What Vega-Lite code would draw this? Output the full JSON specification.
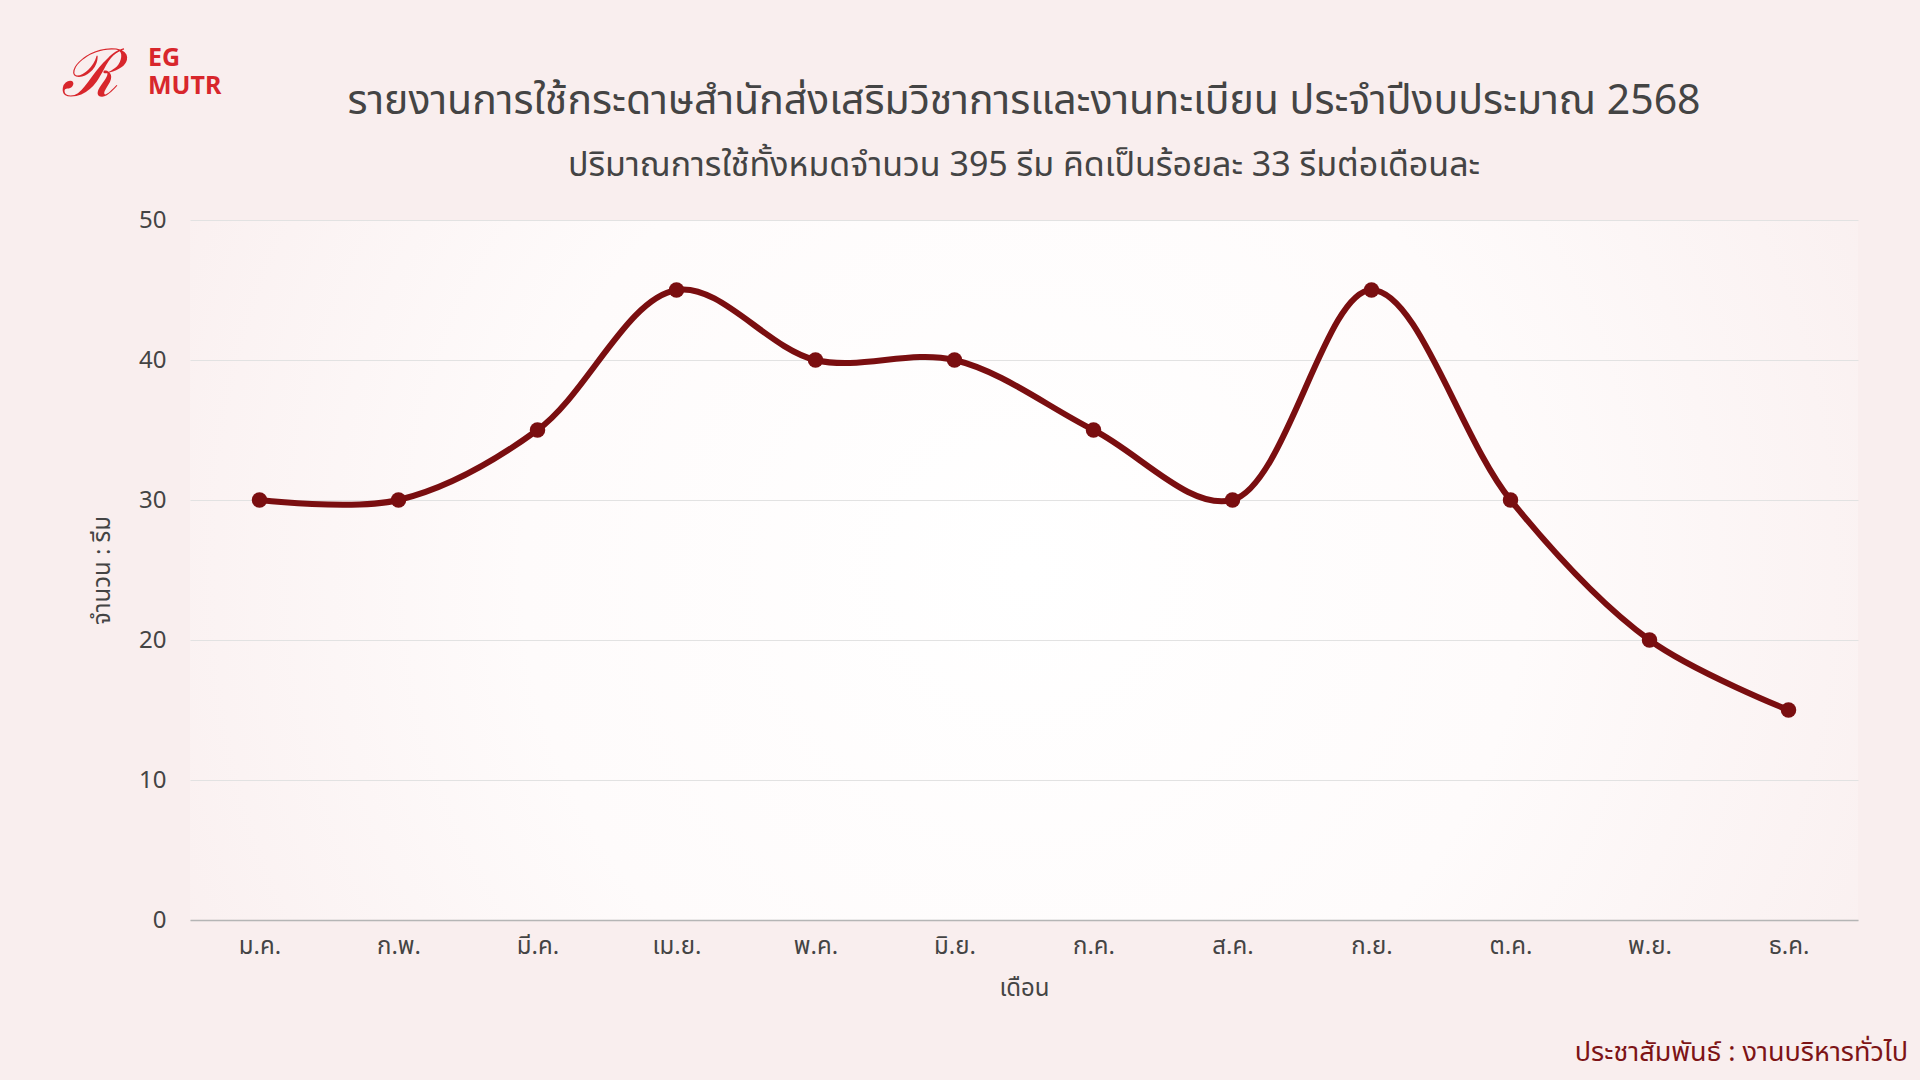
{
  "$schema": "https://vega.github.io/schema/vega-lite/v6.json",
  "width": 1668,
  "height": 700,
  "autosize": {"type": "none"},
  "padding": {"left": 190, "top": 220, "right": 62, "bottom": 160},
  "background": "#f9eeee",
  "title": {
    "text": "รายงานการใช้กระดาษสำนักส่งเสริมวิชาการและงานทะเบียน ประจำปีงบประมาณ 2568",
    "subtitle": "ปริมาณการใช้ทั้งหมดจำนวน 395 รีม คิดเป็นร้อยละ 33 รีมต่อเดือนละ",
    "anchor": "middle",
    "fontSize": 41,
    "fontWeight": "normal",
    "color": "#444444",
    "subtitleFontSize": 34,
    "subtitleColor": "#444444",
    "subtitlePadding": 26,
    "offset": -141,
    "font": "Noto Sans Thai, Noto Sans",
    "subtitleFont": "Noto Sans Thai, Noto Sans"
  },
  "view": {
    "stroke": null,
    "fill": {
      "gradient": "radial",
      "x1": 0.5, "y1": 0.5, "r1": 0,
      "x2": 0.5, "y2": 0.5, "r2": 0.6,
      "stops": [
        {"offset": 0, "color": "#ffffff"},
        {"offset": 0.5, "color": "#fefbfb"},
        {"offset": 1, "color": "#f9eeee"}
      ]
    }
  },
  "datasets": {
    "usage": [
      {"month": "ม.ค.", "reams": 30},
      {"month": "ก.พ.", "reams": 30},
      {"month": "มี.ค.", "reams": 35},
      {"month": "เม.ย.", "reams": 45},
      {"month": "พ.ค.", "reams": 40},
      {"month": "มิ.ย.", "reams": 40},
      {"month": "ก.ค.", "reams": 35},
      {"month": "ส.ค.", "reams": 30},
      {"month": "ก.ย.", "reams": 45},
      {"month": "ต.ค.", "reams": 30},
      {"month": "พ.ย.", "reams": 20},
      {"month": "ธ.ค.", "reams": 15}
    ],
    "notes": [
      {"label": "ประชาสัมพันธ์ : งานบริหารทั่วไป"}
    ],
    "logo": [
      {"mark": "ℛ", "top": "EG", "bottom": "MUTR"}
    ]
  },
  "layer": [
    {
      "data": {"name": "usage"},
      "mark": {
        "type": "line",
        "interpolate": "catmull-rom",
        "color": "#7a0e10",
        "strokeWidth": 6
      },
      "encoding": {
        "x": {
          "field": "month",
          "type": "ordinal",
          "sort": null,
          "title": "เดือน",
          "axis": {
            "labelAngle": 0,
            "labelFontSize": 24,
            "labelColor": "#444444",
            "labelPadding": 14,
            "titleFontSize": 24,
            "titleFontWeight": "normal",
            "titleColor": "#444444",
            "titlePadding": 18,
            "ticks": false,
            "domainColor": "#b5b5b5",
            "domainWidth": 1.5,
            "labelFont": "Noto Sans Thai, Noto Sans",
            "titleFont": "Noto Sans Thai, Noto Sans"
          }
        },
        "y": {
          "field": "reams",
          "type": "quantitative",
          "title": "จำนวน : รีม",
          "scale": {"domain": [0, 50]},
          "axis": {
            "values": [0, 10, 20, 30, 40, 50],
            "labelFontSize": 24,
            "labelColor": "#444444",
            "labelPadding": 24,
            "titleFontSize": 24,
            "titleFontWeight": "normal",
            "titleColor": "#444444",
            "titlePadding": 24,
            "ticks": false,
            "domain": false,
            "gridColor": "#e2e2e2",
            "gridWidth": 1,
            "labelFont": "Noto Sans Thai, Noto Sans",
            "titleFont": "Noto Sans Thai, Noto Sans"
          }
        }
      }
    },
    {
      "data": {"name": "usage"},
      "mark": {"type": "point", "filled": true, "size": 240, "opacity": 1, "color": "#7a0e10"},
      "encoding": {
        "x": {"field": "month", "type": "ordinal", "sort": null},
        "y": {"field": "reams", "type": "quantitative"}
      }
    },
    {
      "data": {"name": "notes"},
      "mark": {
        "type": "text",
        "align": "right",
        "baseline": "middle",
        "fontSize": 27,
        "color": "#7d1416",
        "font": "Noto Sans Thai, Noto Sans"
      },
      "encoding": {
        "text": {"field": "label"},
        "x": {"value": 1718},
        "y": {"value": 833}
      }
    },
    {
      "data": {"name": "logo"},
      "mark": {
        "type": "text",
        "align": "center",
        "baseline": "middle",
        "fontSize": 66,
        "fontStyle": "italic",
        "color": "#d8262c",
        "font": "DejaVu Serif"
      },
      "encoding": {
        "text": {"field": "mark"},
        "x": {"value": -100},
        "y": {"value": -144}
      }
    },
    {
      "data": {"name": "logo"},
      "mark": {
        "type": "text",
        "align": "left",
        "baseline": "middle",
        "fontSize": 25,
        "fontWeight": "bold",
        "color": "#d8262c",
        "font": "Noto Sans"
      },
      "encoding": {
        "text": {"field": "top"},
        "x": {"value": -42},
        "y": {"value": -162}
      }
    },
    {
      "data": {"name": "logo"},
      "mark": {
        "type": "text",
        "align": "left",
        "baseline": "middle",
        "fontSize": 25,
        "fontWeight": "bold",
        "color": "#d8262c",
        "font": "Noto Sans"
      },
      "encoding": {
        "text": {"field": "bottom"},
        "x": {"value": -42},
        "y": {"value": -134}
      }
    }
  ],
  "config": {
    "font": "Noto Sans Thai, Noto Sans"
  }
}
